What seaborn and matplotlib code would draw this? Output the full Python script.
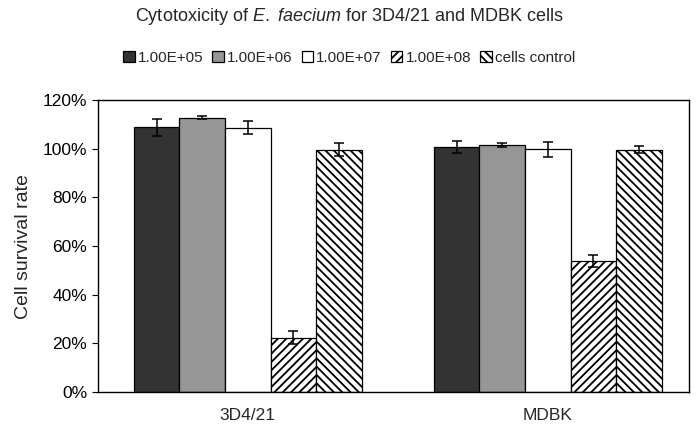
import pandas as pd
import matplotlib
matplotlib.use("Agg")
import matplotlib.pyplot as plt
import seaborn as sns
from matplotlib.ticker import PercentFormatter

cells = ["3D4/21", "MDBK"]
treatments = ["1.00E+05", "1.00E+06", "1.00E+07", "1.00E+08", "cells control"]
survival = {
    "3D4/21": [108.8, 112.8, 108.6, 22.3, 99.7],
    "MDBK": [100.6, 101.4, 99.8, 53.9, 99.7],
}
errors = {
    "3D4/21": [3.6, 0.5, 2.7, 2.6, 2.8],
    "MDBK": [2.5, 0.8, 3.2, 2.5, 1.6],
}
colors = ["#333333", "#969696", "#ffffff", "#ffffff", "#ffffff"]
hatches = ["", "", "", "////", "\\\\\\\\"]

rows = []
for c in cells:
    for t, v, e in zip(treatments, survival[c], errors[c]):
        rows.append({"cell": c, "treatment": t, "rate": v, "err": e})
df = pd.DataFrame(rows)

sns.set_style("white")
plt.rcParams["font.family"] = ["Liberation Sans", "DejaVu Sans"]
plt.rcParams["mathtext.fontset"] = "custom"
plt.rcParams["mathtext.rm"] = "Liberation Sans"
plt.rcParams["mathtext.it"] = "Liberation Sans:italic"
plt.rcParams["hatch.linewidth"] = 1.3

fig = plt.figure(figsize=(6.98, 4.28), dpi=100)
ax = fig.add_axes([0.140, 0.084, 0.847, 0.682])

sns.barplot(data=df, x="cell", y="rate", hue="treatment", order=cells,
            hue_order=treatments, errorbar=None, width=0.76, ax=ax,
            edgecolor="black", linewidth=0.9)

bar_groups = list(ax.containers)
for i, cont in enumerate(bar_groups):
    t = treatments[i]
    for bar, c in zip(cont, cells):
        bar.set_facecolor(colors[i])
        bar.set_hatch(hatches[i])
        bar.set_edgecolor("black")
        x = bar.get_x() + bar.get_width() / 2
        row = df[(df.cell == c) & (df.treatment == t)].iloc[0]
        ax.errorbar(x, row.rate, yerr=row.err, fmt="none", ecolor="black",
                    elinewidth=1.1, capsize=3.5, capthick=1.1)

ax.set_ylim(0, 120)
ax.set_xlim(-0.5, 1.47)
ax.set_yticks(range(0, 121, 20))
ax.yaxis.set_major_formatter(PercentFormatter(decimals=0))
ax.tick_params(axis="y", which="major", left=True, length=4, width=0.8,
               labelsize=12.5, colors="black")
ax.tick_params(axis="x", bottom=False, labelsize=12.5, pad=8)
ax.set_xlabel("")
ax.set_ylabel("Cell survival rate", fontsize=14, labelpad=8)
for s in ax.spines.values():
    s.set_color("black")
    s.set_linewidth(1.0)

if ax.get_legend() is not None:
    ax.get_legend().remove()
handles = [g[0] for g in bar_groups]
fig.legend(handles, treatments, loc="center", bbox_to_anchor=(0.5, 0.864),
           ncol=5, frameon=False, fontsize=11, handlelength=0.75,
           handleheight=0.75, handletextpad=0.2, columnspacing=0.6)

fig.text(0.5, 0.962,
         r"Cytotoxicity of $\mathit{E.}$ $\mathit{faecium}$ for 3D4/21 and MDBK cells",
         ha="center", va="center", fontsize=13)

fig.savefig("out.png", dpi=100)
